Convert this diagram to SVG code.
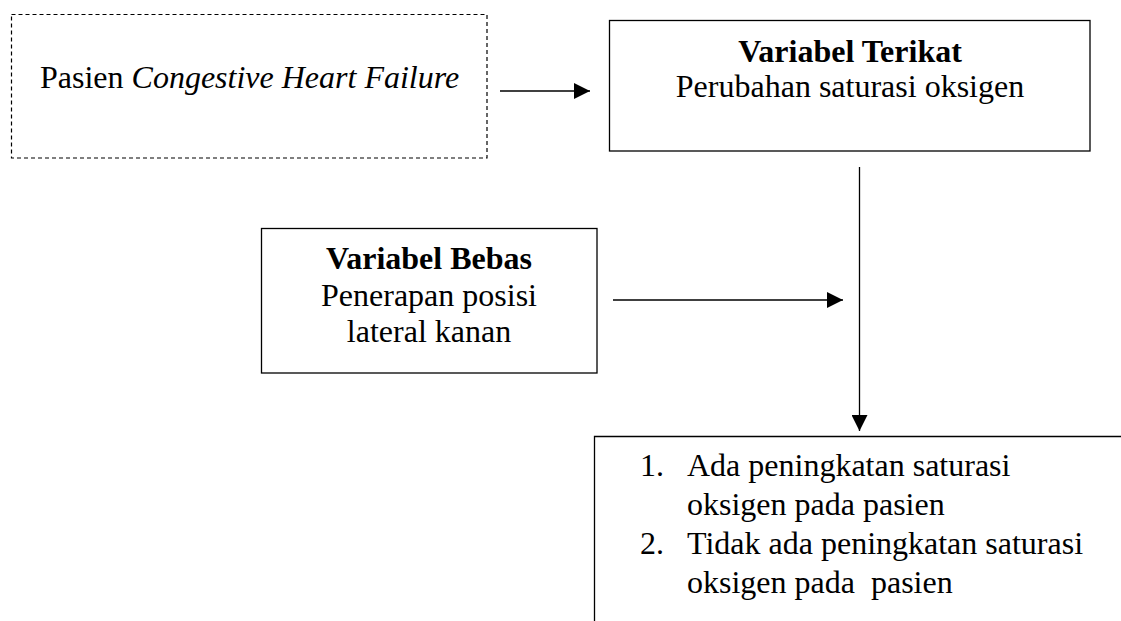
<svg xmlns="http://www.w3.org/2000/svg" width="1121" height="621" viewBox="0 0 1121 621">
  <style>
    .box { fill: none; stroke: #000; stroke-width: 1.3; }
    .dash { fill: none; stroke: #000; stroke-width: 1.2; stroke-dasharray: 4 3; }
    .conn { fill: none; stroke: #000; stroke-width: 1.3; }
    text { font-family: "Liberation Serif", "Times New Roman", serif; font-size: 32px; fill: #000; }
    .b { font-weight: bold; }
    .c { text-anchor: middle; }
  </style>
  <defs>
    <marker id="arr" markerUnits="userSpaceOnUse" markerWidth="16" markerHeight="16" viewBox="0 0 16 16" refX="16" refY="8" orient="auto">
      <path d="M0,0 L16,8 L0,16 Z" fill="#000"/>
    </marker>
  </defs>
  <rect width="1121" height="621" fill="#fff"/>

  <g id="node-pasien">
    <rect class="dash" x="11.5" y="14.5" width="475.5" height="143.5"/>
    <text x="40" y="88">Pasien <tspan font-style="italic">Congestive Heart Failure</tspan></text>
  </g>

  <g id="node-terikat">
    <rect class="box" x="609.5" y="20.5" width="480.5" height="130.5"/>
    <text class="c b" x="850" y="62">Variabel Terikat</text>
    <text class="c" x="850" y="97">Perubahan saturasi oksigen</text>
  </g>

  <g id="node-bebas">
    <rect class="box" x="261.5" y="228.5" width="335.5" height="144.5"/>
    <text class="c b" x="429" y="269">Variabel Bebas</text>
    <text class="c" x="429" y="306">Penerapan posisi</text>
    <text class="c" x="429" y="342">lateral kanan</text>
  </g>

  <g id="node-hasil">
    <path class="box" d="M594.5,621 L594.5,436.5 L1121,436.5"/>
    <text x="640" y="476">1.</text>
    <text x="687" y="476">Ada peningkatan saturasi</text>
    <text x="687" y="515">oksigen pada pasien</text>
    <text x="640" y="554">2.</text>
    <text x="687" y="554">Tidak ada peningkatan saturasi</text>
    <text x="687" y="593" style="white-space:pre">oksigen pada  pasien</text>
  </g>

  <g id="connectors">
    <line class="conn" x1="500" y1="91" x2="590" y2="91" marker-end="url(#arr)"/>
    <line class="conn" x1="613" y1="300" x2="843" y2="300" marker-end="url(#arr)"/>
    <line class="conn" x1="859.5" y1="167" x2="859.5" y2="431" marker-end="url(#arr)"/>
  </g>
</svg>
